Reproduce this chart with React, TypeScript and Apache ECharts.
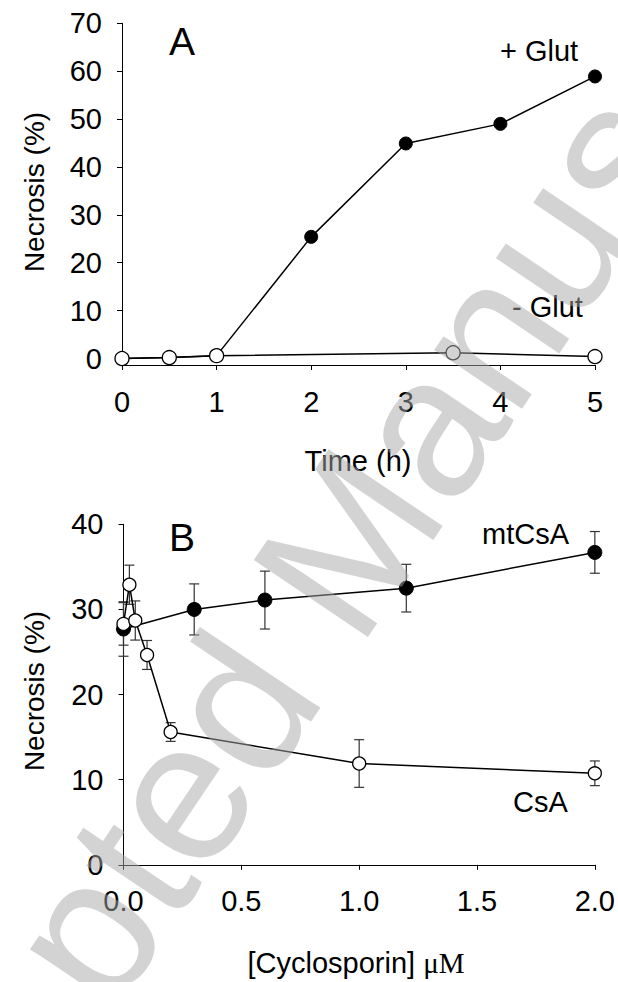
import React, { useEffect, useRef } from "react";
import * as echarts from "echarts";

// Panel A: necrosis over time
const timeA = [0, 0.5, 1, 2, 3, 4, 5];
const plusGlut = [0, 0.2, 0.6, 25.4, 44.9, 49.0, 58.9];
const timeMinus = [0, 0.5, 1, 3.5, 5];
const minusGlut = [0, 0.2, 0.6, 1.2, 0.4];
const ticksA = [0, 10, 20, 30, 40, 50, 60, 70];

// Panel B: cyclosporin dose response
const mtDose = [0, 0.3, 0.6, 1.2, 2.0];
const mtMean = [27.7, 30.0, 31.1, 32.5, 36.7];
const mtErr = [3.2, 3.0, 3.4, 2.8, 2.45];
const csDose = [0, 0.025, 0.05, 0.1, 0.2, 1.0, 2.0];
const csMean = [28.3, 32.9, 28.7, 24.65, 15.6, 11.9, 10.75];
const csErr = [2.5, 2.3, 2.3, 1.7, 1.1, 2.8, 1.45];

const SANS = "'Liberation Sans', Arial, Helvetica, sans-serif";
const SERIF = "'Liberation Serif', 'Times New Roman', serif";
const FS = 29;

function errorBars(params: any, api: any) {
  const x = api.value(0);
  const y = api.value(1);
  const e = api.value(2);
  const top = api.coord([x, y + e]);
  const bot = api.coord([x, y - e]);
  const hw = 5;
  const st = { stroke: "#333", lineWidth: 1.2 };
  return {
    type: "group",
    children: [
      { type: "line", shape: { x1: top[0], y1: top[1], x2: bot[0], y2: bot[1] }, style: st },
      { type: "line", shape: { x1: top[0] - hw, y1: top[1], x2: top[0] + hw, y2: top[1] }, style: st },
      { type: "line", shape: { x1: bot[0] - hw, y1: bot[1], x2: bot[0] + hw, y2: bot[1] }, style: st },
    ],
  };
}

function txt(text: string, x: number, y: number, size: number, align = "left", rotation = 0, family = SANS) {
  return {
    type: "text",
    x,
    y,
    rotation,
    silent: true,
    style: {
      text,
      fill: "#000",
      fontSize: size,
      fontFamily: family,
      align,
      textAlign: align,
      verticalAlign: "middle",
      textVerticalAlign: "middle",
    },
  };
}

export default function App() {
  const ref = useRef<HTMLDivElement>(null);
  useEffect(() => {
    if (!ref.current) return;
    const chart = echarts.init(ref.current, undefined, { renderer: "svg" });
    const axisLine = { show: true, onZero: false, lineStyle: { color: "#000", width: 1 } };
    const axisTick = { show: true, inside: false, length: 5, lineStyle: { color: "#000", width: 1 } };
    const label = { color: "#000", fontSize: FS, fontFamily: SANS };
    chart.setOption({
      animation: false,
      backgroundColor: "#fff",
      textStyle: { fontFamily: SANS },
      grid: [
        { left: 122, top: 23.3, width: 473, height: 341.7 },
        { left: 123.5, top: 524.3, width: 471.5, height: 340.5 },
      ],
      xAxis: [
        {
          gridIndex: 0,
          type: "value",
          min: 0,
          max: 5,
          interval: 1,
          axisLine,
          axisTick,
          splitLine: { show: false },
          axisLabel: { ...label, margin: 22 },
        },
        {
          gridIndex: 1,
          type: "value",
          min: 0,
          max: 2,
          interval: 0.5,
          axisLine,
          axisTick,
          splitLine: { show: false },
          axisLabel: { ...label, margin: 22, formatter: (v: number) => v.toFixed(1) },
        },
      ],
      yAxis: [
        {
          gridIndex: 0,
          type: "value",
          min: -1.357,
          max: 70,
          axisLine,
          axisTick: { ...axisTick, customValues: ticksA },
          splitLine: { show: false },
          axisLabel: { ...label, margin: 20, customValues: ticksA },
        },
        {
          gridIndex: 1,
          type: "value",
          min: 0,
          max: 40,
          interval: 10,
          axisLine,
          axisTick,
          splitLine: { show: false },
          axisLabel: { ...label, margin: 20 },
        },
      ],
      series: [
        {
          type: "line",
          xAxisIndex: 0,
          yAxisIndex: 0,
          data: timeA.map((t, i) => [t, plusGlut[i]]),
          symbol: "circle",
          symbolSize: 13,
          lineStyle: { color: "#000", width: 1.5 },
          itemStyle: { color: "#000", borderColor: "#000", borderWidth: 1 },
          z: 3,
        },
        {
          type: "line",
          xAxisIndex: 0,
          yAxisIndex: 0,
          data: timeMinus.map((t, i) => [t, minusGlut[i]]),
          symbol: "circle",
          symbolSize: 14,
          lineStyle: { color: "#000", width: 1.5 },
          itemStyle: { color: "#fff", borderColor: "#000", borderWidth: 1.3 },
          z: 4,
        },
        {
          type: "custom",
          xAxisIndex: 1,
          yAxisIndex: 1,
          renderItem: errorBars,
          encode: { x: 0, y: 1 },
          data: mtDose.map((d, i) => [d, mtMean[i], mtErr[i]]),
          z: 2,
        },
        {
          type: "custom",
          xAxisIndex: 1,
          yAxisIndex: 1,
          renderItem: errorBars,
          encode: { x: 0, y: 1 },
          data: csDose.map((d, i) => [d, csMean[i], csErr[i]]),
          z: 2,
        },
        {
          type: "line",
          xAxisIndex: 1,
          yAxisIndex: 1,
          data: mtDose.map((d, i) => [d, mtMean[i]]),
          symbol: "circle",
          symbolSize: 14,
          lineStyle: { color: "#000", width: 1.5 },
          itemStyle: { color: "#000", borderColor: "#000", borderWidth: 1 },
          z: 3,
        },
        {
          type: "line",
          xAxisIndex: 1,
          yAxisIndex: 1,
          data: csDose.map((d, i) => [d, csMean[i]]),
          symbol: "circle",
          symbolSize: 13,
          lineStyle: { color: "#000", width: 1.5 },
          itemStyle: { color: "#fff", borderColor: "#000", borderWidth: 1.3 },
          z: 4,
        },
      ],
      graphic: [
        txt("A", 182, 41, 39, "center"),
        txt("B", 182, 537, 39, "center"),
        txt("+ Glut", 500, 51, FS),
        txt("- Glut", 512, 307, FS),
        txt("mtCsA", 482, 534, FS),
        txt("CsA", 513, 802, FS),
        txt("Time (h)", 358, 461, FS, "center"),
        txt("Necrosis (%)", 34, 192, 28, "center", Math.PI / 2),
        txt("Necrosis (%)", 34, 691, 28, "center", Math.PI / 2),
        {
          type: "text",
          x: 356,
          y: 963,
          silent: true,
          style: {
            text: "{a|[Cyclosporin] }{b|μM}",
            align: "center",
            textAlign: "center",
            verticalAlign: "middle",
            textVerticalAlign: "middle",
            rich: {
              a: { fontSize: FS, fontFamily: SANS, fill: "#000", color: "#000" },
              b: { fontSize: FS, fontFamily: SERIF, fill: "#000", color: "#000" },
            },
          },
        },
        {
          type: "text",
          x: 326,
          y: 575,
          rotation: (56 * Math.PI) / 180,
          silent: true,
          z: 100,
          style: {
            text: "Accepted Manuscript",
            fill: "#a8a8a8",
            opacity: 0.5,
            fontSize: 200,
            fontFamily: SANS,
            align: "center",
            textAlign: "center",
            verticalAlign: "middle",
            textVerticalAlign: "middle",
          },
        },
      ],
    });
    return () => chart.dispose();
  }, []);
  return (
    <div
      ref={ref}
      style={{ position: "absolute", left: 0, top: 0, width: 618, height: 982, background: "#fff" }}
    />
  );
}
